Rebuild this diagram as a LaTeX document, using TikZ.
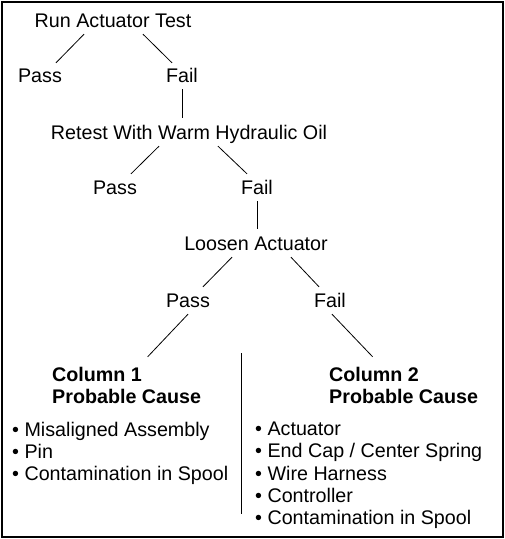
\documentclass[tikz,border=0pt]{standalone}
\usepackage{fontspec}
\setmainfont{Liberation Sans}
\usepackage{tikz}
\usetikzlibrary{positioning, calc}

\begin{document}
\begin{tikzpicture}[
  x=1pt, y=-1pt,
  stage/.style={inner sep=3pt, text height=14pt, text depth=4pt, font=\fontsize{19.7}{22.3}\selectfont},
  cause/.style={anchor=north west, inner sep=0pt, align=left, font=\fontsize{19.7}{22.3}\selectfont},
  link/.style={line width=0.8pt}
]
  \useasboundingbox (0,0) rectangle (505,539);
  \draw[line width=2pt] (2,2) rectangle (503,537);

  % test sequence
  \node[stage, anchor=base] (run) at (113,27) {Run Actuator Test};
  \node[stage, anchor=base] (pass1) at (40,82) {Pass};
  \node[stage, anchor=base] (fail1) at (182,82) {Fail};
  \node[stage, anchor=base] (retest) at (189,139) {Retest With Warm Hydraulic Oil};
  \node[stage, anchor=base] (pass2) at (115,194) {Pass};
  \node[stage, anchor=base] (fail2) at (257,194) {Fail};
  \node[stage, anchor=base] (loosen) at (256,250) {Loosen Actuator};
  \node[stage, anchor=base] (pass3) at (188,307) {Pass};
  \node[stage, anchor=base] (fail3) at (330,307) {Fail};

  % columns
  \node[cause, font=\fontsize{19.7}{22.3}\selectfont\bfseries] (col1) at (52,366.8) {Column 1\\Probable Cause};
  \node[cause, font=\fontsize{19.7}{22.3}\selectfont\bfseries] (col2) at (329,366.8) {Column 2\\Probable Cause};
  \node[cause] (list1) at (12,421.8) {%
    • Misaligned Assembly\\
    • Pin\\
    • Contamination in Spool};
  \node[cause] (list2) at (255,421.8) {%
    • Actuator\\
    • End Cap / Center Spring\\
    • Wire Harness\\
    • Controller\\
    • Contamination in Spool};

  \draw[link] ([xshift=-29pt]run.south) -- ([xshift=16pt,yshift=2pt]pass1.north);
  \draw[link] ([xshift=30pt]run.south) -- ([xshift=-10pt,yshift=2pt]fail1.north);
  \draw[link] (fail1.south) -- ([yshift=4pt]fail1.south |- retest.north);
  \draw[link] ([xshift=-30pt]retest.south) -- ([xshift=16pt,yshift=3pt]pass2.north);
  \draw[link] ([xshift=29pt]retest.south) -- ([xshift=-10pt,yshift=3pt]fail2.north);
  \draw[link] (fail2.south) -- ([yshift=4pt]fail2.south |- loosen.north);
  \draw[link] ([xshift=-24pt]loosen.south) -- ([xshift=15pt,yshift=3pt]pass3.north);
  \draw[link] ([xshift=35pt]loosen.south) -- ([xshift=-11pt,yshift=3pt]fail3.north);
  \draw[link] (pass3.south) -- ([xshift=21pt,yshift=10pt]col1.north);
  \draw[link] ([xshift=2pt]fail3.south) -- ([xshift=-31pt,yshift=10pt]col2.north);

  % divider
  \draw[link] (241,353) -- (241,514);
\end{tikzpicture}
\end{document}
